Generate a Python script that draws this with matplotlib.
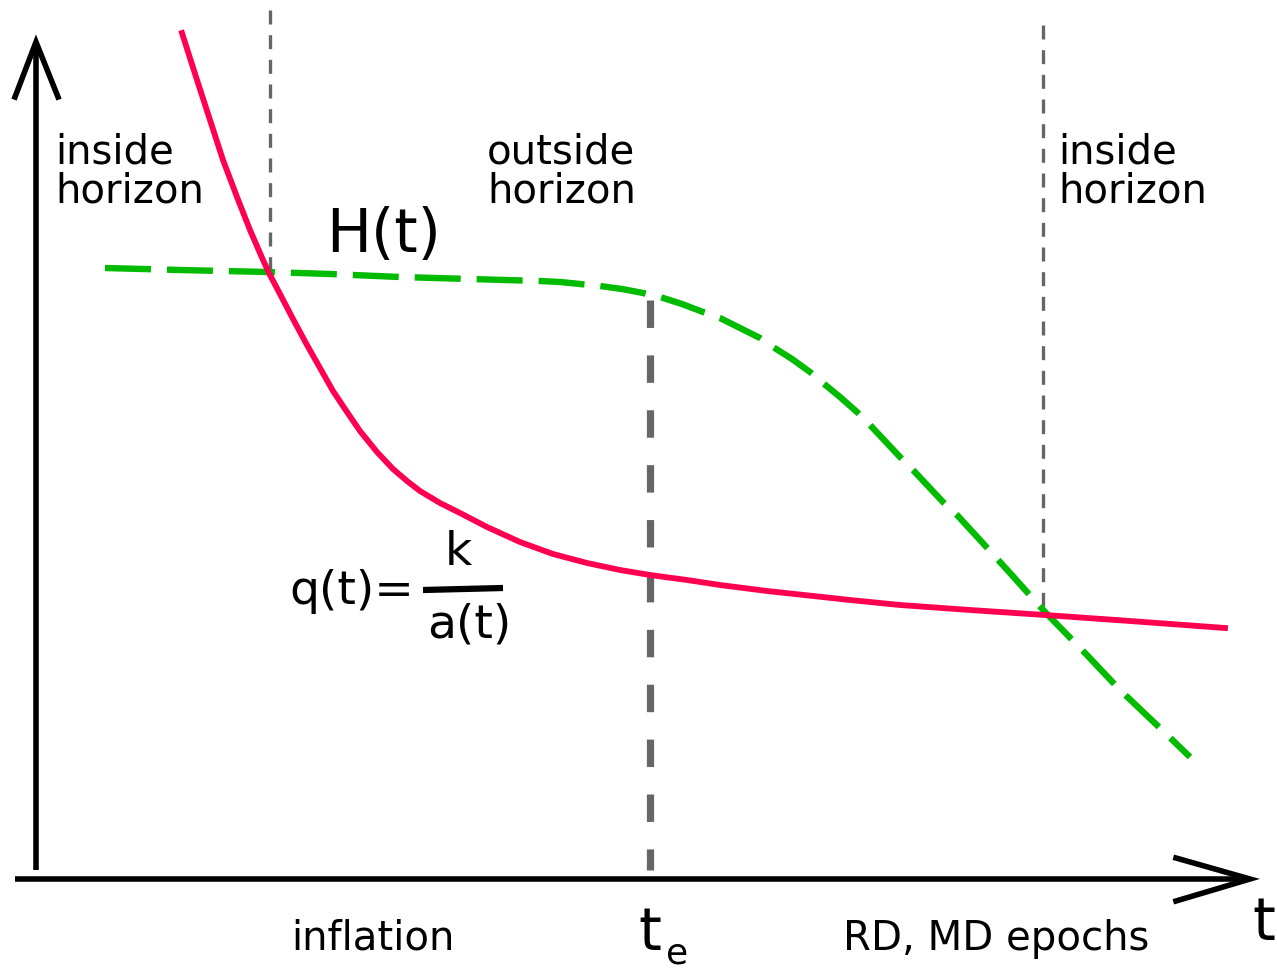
import matplotlib
matplotlib.use("Agg")
import matplotlib.pyplot as plt

# q(t) = k/a(t) curve (pixel-space coordinates of diagram)
q_x = [182, 197, 210, 223, 237, 250, 263, 270, 280, 293, 307, 320, 333, 347, 360, 377, 393, 407, 420, 440, 460, 487, 520, 553, 587, 620, 650, 687, 720, 767, 850, 900, 970, 1045, 1130, 1225]
q_y = [33, 80, 120, 160, 197, 230, 260, 275, 294, 319, 345, 368, 391, 412, 431, 452, 469, 481, 491, 503, 513, 527, 542, 554, 563, 570, 575, 580, 585, 591, 600, 605, 610, 615, 621, 628]

# H(t) curve
h_x = [105, 180, 268, 330, 400, 470, 540, 560, 580, 600, 622, 643, 660, 682, 703, 720, 740, 760, 773, 792, 810, 823, 840, 857, 870, 885, 900, 913, 928, 943, 957, 980, 1010, 1045, 1085, 1120, 1160, 1190]
h_y = [268, 270, 272, 274, 277, 279, 281, 282, 284, 286, 289, 293, 297, 304, 312, 318, 328, 338, 347, 359, 372, 383, 397, 412, 425, 441, 457, 470, 486, 502, 515, 540, 573, 612, 653, 690, 728, 757]

# vertical markers: (x, y_top, y_bottom)
horizon_x = [270, 1043]
horizon_top = [10, 25]
horizon_bottom = [272, 612]
te_x = 650
te_top, te_bottom = 300, 870

red = "#ff0050"
green = "#00bb00"
gray = "#666666"

fig = plt.figure(figsize=(12.77, 9.69), dpi=100)
ax = fig.add_axes([0, 0, 1, 1])
ax.set_xlim(0, 1277)
ax.set_ylim(969, 0)
ax.axis("off")

# axes with open arrowheads
ax.plot([36, 36], [870, 44], color="black", lw=4, solid_capstyle="butt")
ax.plot([15, 36, 58], [97, 42, 97], color="black", lw=4, solid_joinstyle="miter")
ax.plot([15, 1248], [879, 879], color="black", lw=4, solid_capstyle="butt")
ax.plot([1176, 1250, 1176], [858, 879, 901], color="black", lw=4, solid_joinstyle="miter")

# horizon crossing markers
for x, t, b in zip(horizon_x, horizon_top, horizon_bottom):
    ax.plot([x, x], [t, b], color=gray, lw=2.4, dashes=(4.2, 3.2))
ax.plot([te_x, te_x], [te_top, te_bottom], color=gray, lw=5.2, dashes=(3.8, 3.8))

# curves
ax.plot(h_x, h_y, color=green, lw=4.6, dashes=(7.2, 2.5), solid_joinstyle="round", dash_joinstyle="round")
ax.plot(q_x, q_y, color=red, lw=4.2, solid_joinstyle="round")

fs = 29
ax.text(55, 163, "inside", fontsize=fs, va="baseline")
ax.text(55, 202, "horizon", fontsize=fs, va="baseline")
ax.text(487, 163, "outside", fontsize=fs, va="baseline")
ax.text(487, 202, "horizon", fontsize=fs, va="baseline")
ax.text(1058, 163, "inside", fontsize=fs, va="baseline")
ax.text(1058, 202, "horizon", fontsize=fs, va="baseline")

ax.text(326, 252, "H(t)", fontsize=43, va="baseline")

ax.text(289, 604, "q(t)=", fontsize=34, va="baseline")
ax.text(445, 565, "k", fontsize=34, va="baseline")
ax.plot([423, 503], [590, 588], color="black", lw=4.5, solid_capstyle="butt")
ax.text(427, 638, "a(t)", fontsize=34, va="baseline")

ax.text(291, 950, "inflation", fontsize=fs, va="baseline")
ax.text(843, 950, "RD, MD epochs", fontsize=fs, va="baseline")
ax.text(638, 950, "t", fontsize=42, va="baseline")
ax.text(666, 963, "e", fontsize=26, va="baseline")
ax.text(1252, 940, "t", fontsize=42, va="baseline")

fig.savefig("out.png", dpi=100, facecolor="white")
